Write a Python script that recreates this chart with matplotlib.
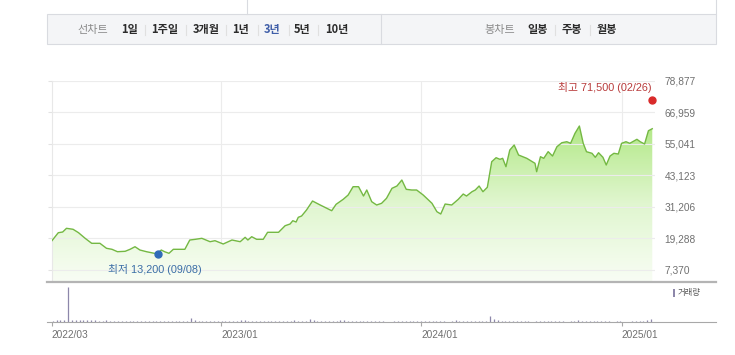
import numpy as np
import pandas as pd
import matplotlib
matplotlib.use("Agg")
import matplotlib.pyplot as plt
import matplotlib.dates as mdates
from matplotlib.colors import LinearSegmentedColormap
from matplotlib.lines import Line2D
from matplotlib.patches import Rectangle

plt.rcParams['font.family'] = ['Noto Sans CJK KR', 'DejaVu Sans']

# weekly-ish closing prices
price_dates = [
    "2022-02-26", "2022-03-10", "2022-03-18", "2022-03-25", "2022-04-06", "2022-04-16",
    "2022-04-28", "2022-05-10", "2022-05-25", "2022-06-06", "2022-06-16", "2022-06-26",
    "2022-07-10", "2022-07-19", "2022-07-28", "2022-08-06", "2022-08-18", "2022-09-06",
    "2022-09-14", "2022-09-20", "2022-09-28", "2022-10-06", "2022-10-27", "2022-11-05",
    "2022-11-15", "2022-11-27", "2022-12-12", "2022-12-21", "2023-01-05", "2023-01-21",
    "2023-02-05", "2023-02-14", "2023-02-19", "2023-02-26", "2023-03-07", "2023-03-19",
    "2023-03-27", "2023-04-16", "2023-04-28", "2023-05-07", "2023-05-12", "2023-05-18",
    "2023-05-22", "2023-05-28", "2023-06-06", "2023-06-17", "2023-07-01", "2023-07-22",
    "2023-07-30", "2023-08-12", "2023-08-21", "2023-08-30", "2023-09-09", "2023-09-18",
    "2023-09-24", "2023-10-03", "2023-10-12", "2023-10-21", "2023-10-30", "2023-11-09",
    "2023-11-18", "2023-11-27", "2023-12-05", "2023-12-15", "2023-12-24", "2024-01-05",
    "2024-01-21", "2024-01-30", "2024-02-06", "2024-02-14", "2024-02-26", "2024-03-09",
    "2024-03-18", "2024-03-24", "2024-04-03", "2024-04-09", "2024-04-16", "2024-04-23",
    "2024-05-01", "2024-05-09", "2024-05-17", "2024-05-24", "2024-05-29", "2024-06-04",
    "2024-06-11", "2024-06-19", "2024-06-27", "2024-07-12", "2024-07-27", "2024-07-30",
    "2024-08-06", "2024-08-12", "2024-08-20", "2024-08-28", "2024-09-05", "2024-09-14",
    "2024-09-23", "2024-09-30", "2024-10-08", "2024-10-16", "2024-10-23", "2024-10-29",
    "2024-11-08", "2024-11-14", "2024-11-20", "2024-11-28", "2024-12-04", "2024-12-11",
    "2024-12-18", "2024-12-26", "2025-01-01", "2025-01-09", "2025-01-16", "2025-01-29",
    "2025-02-04", "2025-02-12", "2025-02-19", "2025-02-26",
]
price_values = [
    18160, 21300, 21570, 22970, 22600, 21300,
    19185, 17290, 17290, 15400, 15020, 14110,
    14260, 15020, 16000, 14750, 14110, 13300,
    14750, 14110, 13500, 15020, 15020, 18540,
    18800, 19180, 17900, 18280, 17030, 18540,
    17900, 19560, 18540, 19790, 18800, 18800,
    21460, 21460, 23960, 24600, 25850, 25360,
    27140, 27630, 29900, 33310, 31800, 29640,
    32060, 33960, 35580, 38730, 38730, 35200,
    37480, 33050, 31800, 32440, 34330, 38120,
    38990, 41260, 37740, 37480, 37480, 35580,
    32440, 29260, 28390, 32170, 31800, 33960,
    35960, 35200, 36830, 37480, 38990, 36830,
    38500, 48190, 49710, 49100, 49480, 46300,
    52620, 54520, 50730, 49480, 47590, 44410,
    50090, 49480, 52000, 50350, 53870, 55390,
    55770, 55160, 58950, 61710, 55160, 51980,
    51380, 49860, 51600, 49860, 46950, 50350,
    51380, 51110, 55160, 55770, 55160, 56680,
    55770, 54900, 59930, 60690,
]

# weekly volume (relative units), first week 2022-02-28
volume = [
    1, 2, 2, 2, 35, 2, 2, 2, 2, 2, 2, 2, 1,
    1, 2, 1, 1, 1, 1, 1, 1, 1, 1, 1, 1, 1,
    1, 1, 1, 1, 1, 1, 1, 1, 1, 1, 4, 2, 1,
    1, 1, 1, 1, 1, 1, 1, 1, 1, 1, 2, 2, 1,
    1, 1, 1, 1, 1, 1, 1, 1, 1, 1, 1, 2, 1,
    1, 1, 3, 2, 1, 1, 1, 1, 1, 1, 2, 2, 1,
    1, 1, 1, 1, 1, 1, 1, 1, 1, 0, 0, 1, 1,
    1, 1, 1, 1, 1, 1, 1, 1, 1, 1, 1, 1, 0,
    1, 2, 1, 1, 1, 1, 1, 1, 1, 1, 6, 3, 2,
    1, 1, 1, 1, 1, 1, 1, 1, 0, 1, 1, 1, 1,
    1, 1, 1, 1, 0, 1, 1, 2, 1, 1, 1, 1, 1,
    1, 1, 1, 0, 1, 1, 0, 0, 1, 1, 1, 1, 2, 3,
]

y_ticks = [7370, 19288, 31206, 43123, 55041, 66959, 78877]
x_tick_dates = ["2022-02-26", "2023-01-01", "2024-01-01", "2025-01-01"]
x_tick_labels = ["2022/03", "2023/01", "2024/01", "2025/01"]
year_lines = ["2023-01-01", "2024-01-01", "2025-01-01"]

high_date, high_value = "2025-02-26", 71500
low_date, low_value = "2022-09-08", 13200

left_menu = ["1일", "1주일", "3개월", "1년", "3년", "5년", "10년"]
right_menu = ["일봉", "주봉", "월봉"]

W, H = 735, 355


def fx(px):
    return px / W


def fy(py):
    return 1 - py / H


fig = plt.figure(figsize=(W / 100, H / 100), dpi=100)

# ---- top toolbar
fig.patches.append(Rectangle((fx(47), fy(44)), fx(716) - fx(47), fy(14) - fy(44),
                             transform=fig.transFigure, facecolor="#f4f5f7",
                             edgecolor="#d9dbe0", lw=0.8))
for x0, y0, y1 in [(381, 14, 44), (247, 0, 14), (716, 0, 14)]:
    fig.lines.append(Line2D([fx(x0), fx(x0)], [fy(y0), fy(y1)], transform=fig.transFigure,
                            color="#d9dbe0", lw=0.8))

fig.text(fx(93), fy(30), "선차트", ha="center", va="center", fontsize=8, color="#8a8a8a")
left_x = [129.5, 165, 206.5, 240.5, 272.5, 302, 336.5]
for lbl, xc in zip(left_menu, left_x):
    col = "#3f5ea8" if lbl == "3년" else "#2b2b2b"
    fig.text(fx(xc), fy(30), lbl, ha="center", va="center", fontsize=8,
             fontweight="bold", color=col)
for xs in [145, 186, 226, 258, 289, 318, 555, 590]:
    fig.lines.append(Line2D([fx(xs), fx(xs)], [fy(25), fy(35)], transform=fig.transFigure,
                            color="#e0e0e0", lw=0.8))
fig.text(fx(499.5), fy(30), "봉차트", ha="center", va="center", fontsize=8, color="#8a8a8a")
for lbl, xc in zip(right_menu, [537.5, 571.5, 607]):
    fig.text(fx(xc), fy(30), lbl, ha="center", va="center", fontsize=8,
             fontweight="bold", color="#2b2b2b")

# ---- price panel
x_lo, x_hi = pd.Timestamp("2022-02-26"), pd.Timestamp("2025-03-03")
y_lo = 3015
ax = fig.add_axes([fx(51.7), fy(281), fx(655) - fx(51.7), fy(80.7) - fy(281)])
dates = pd.to_datetime(price_dates)

poly = ax.fill_between(dates, price_values, y_lo, facecolor="none", edgecolor="none")
grad = np.linspace(1, 0, 256).reshape(-1, 1)
cmap = LinearSegmentedColormap.from_list("g", ["#f8fdf4", "#e0f6cf", "#b2e886"])
im = ax.imshow(grad, cmap=cmap, aspect="auto", origin="upper",
               extent=[mdates.date2num(x_lo), mdates.date2num(x_hi), y_lo, 62000], zorder=1)
im.set_clip_path(poly.get_paths()[0], transform=ax.transData)
ax.plot(dates, price_values, color="#74b843", lw=1.0, zorder=3)

for d in year_lines:
    ax.axvline(pd.Timestamp(d), color="#ececec", lw=0.8, zorder=0)

ax.set_xlim(x_lo, x_hi)
ax.set_ylim(y_lo, 78877)
ax.set_yticks(y_ticks)
ax.set_yticklabels([f"{v:,}" for v in y_ticks], family="Liberation Sans",
                   fontsize=7.3, color="#707070")
ax.yaxis.set_ticks_position("both")
ax.tick_params(axis="y", left=True, right=False, labelleft=False, labelright=True,
               length=3, color="#e3e3e3", pad=4)
ax.set_xticks([])
ax.grid(axis="y", color="#ececec", lw=0.8, zorder=0)
for s in ["top", "right", "bottom"]:
    ax.spines[s].set_visible(False)
ax.spines["left"].set_color("#e8e8e8")

ax.plot(pd.Timestamp(high_date), high_value, "o", color="#d92a2a", ms=5, zorder=5, clip_on=False)
ax.annotate(f"최고 {high_value:,} (02/26)", (pd.Timestamp(high_date), high_value),
            xytext=(-1, 13), textcoords="offset pixels", ha="right", va="center",
            fontsize=7.8, color="#b83a3a", family=["Liberation Sans", "Noto Sans CJK KR"],
            annotation_clip=False)
ax.plot(pd.Timestamp(low_date), low_value, "o", color="#2f6bb8", ms=5, zorder=5, clip_on=False)
ax.annotate(f"최저 {low_value:,} (09/08)", (pd.Timestamp(low_date), low_value),
            xytext=(-3, -15), textcoords="offset pixels", ha="center", va="center",
            fontsize=7.8, color="#3b6ea6", family=["Liberation Sans", "Noto Sans CJK KR"],
            annotation_clip=False)

# ---- volume panel
fig.lines.append(Line2D([fx(47), fx(716)], [fy(281.5), fy(281.5)], transform=fig.transFigure,
                        color="#b4b4b4", lw=1.6))
fig.lines.append(Line2D([fx(47), fx(716)], [fy(322), fy(322)], transform=fig.transFigure,
                        color="#a8a8a8", lw=0.8))

axv = fig.add_axes([fx(51.7), fy(322), fx(655) - fx(51.7), fy(286) - fy(322)])
vol_dates = pd.date_range("2022-02-28", periods=len(volume), freq="7D")
axv.vlines(vol_dates, 0, volume, color="#8d87aa", lw=0.9)
axv.set_xlim(x_lo, x_hi)
axv.set_ylim(0, 36)
axv.set_yticks([])
axv.set_xticks(pd.to_datetime(x_tick_dates))
axv.set_xticklabels(x_tick_labels, family="Liberation Sans", fontsize=7.3,
                    color="#707070", ha="left")
axv.tick_params(axis="x", length=3, color="#a8a8a8", pad=3)
for s in axv.spines.values():
    s.set_visible(False)
axv.patch.set_alpha(0)

fig.patches.append(Rectangle((fx(673), fy(297)), fx(2), fy(289) - fy(297),
                             transform=fig.transFigure, facecolor="#8d87aa", edgecolor="none"))
fig.text(fx(678), fy(293), "거래량", ha="left", va="center", fontsize=6, color="#555555")

fig.savefig("out.png", dpi=100)
